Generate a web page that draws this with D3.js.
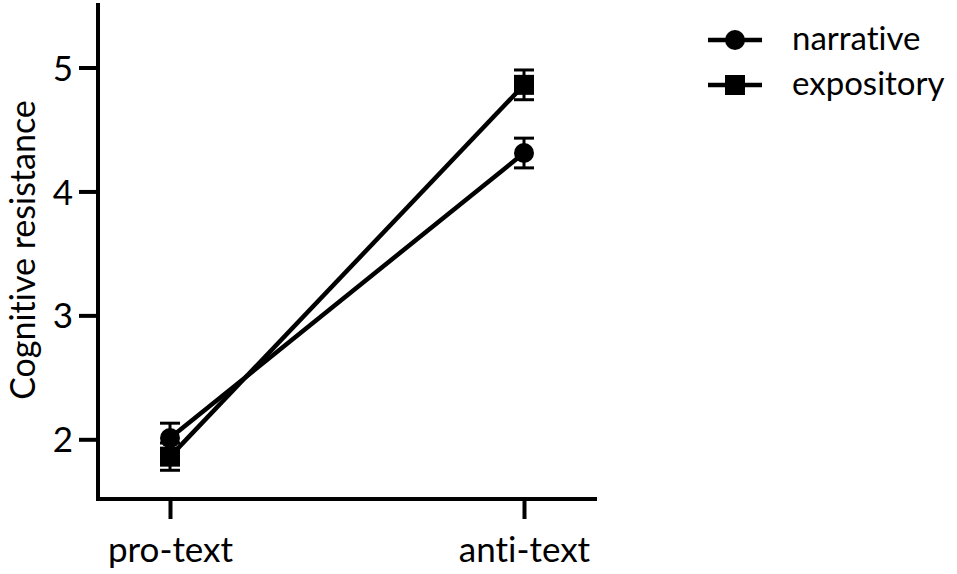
<!DOCTYPE html>
<html><head><meta charset="utf-8">
<script src="https://cdn.jsdelivr.net/npm/d3@7"></script>
<style>body{margin:0;background:#fff}svg{display:block}text{font-family:Lato,"Open Sans",sans-serif;fill:#000;font-variant-ligatures:none;font-feature-settings:"liga" 0}</style>
</head><body><svg id="c" width="957" height="574"></svg>
<script>
const categories = ["pro-text", "anti-text"];
const seriesNames = ["narrative", "expository"];
const narrativeMean = [2.01, 4.31];
const narrativeErr = [0.12, 0.12];
const expositoryMean = [1.86, 4.86];
const expositoryErr = [0.11, 0.12];
const yTicks = [2, 3, 4, 5];

const svg = d3.select("#c");
const y = d3.scaleLinear().domain([2, 5]).range([439.3, 67.5]);
const x = d3.scalePoint().domain(categories).range([170, 524]);
const xAxisY = 499, yAxisX = 98;

// axes
const gy = svg.append("g").attr("transform", `translate(${yAxisX},0)`)
  .call(d3.axisLeft(y).tickValues(yTicks).tickSize(19).tickPadding(6).tickFormat(d3.format("d")));
gy.select(".domain").remove();
gy.selectAll(".tick line").attr("stroke", "#000").attr("stroke-width", 4);
gy.selectAll(".tick text").style("font-size", "35px").attr("dy", "0.36em");
svg.append("line").attr("x1", yAxisX).attr("x2", yAxisX).attr("y1", 3).attr("y2", xAxisY + 2)
  .attr("stroke", "#000").attr("stroke-width", 4);

const gx = svg.append("g").attr("transform", `translate(0,${xAxisY})`)
  .call(d3.axisBottom(x).tickSize(20).tickPadding(0));
gx.select(".domain").remove();
gx.selectAll(".tick line").attr("stroke", "#000").attr("stroke-width", 4);
gx.selectAll(".tick text").style("font-size", "35px").attr("dy", null).attr("y", 63);
svg.append("line").attr("x1", yAxisX - 2).attr("x2", 597).attr("y1", xAxisY).attr("y2", xAxisY)
  .attr("stroke", "#000").attr("stroke-width", 4);

svg.append("text").attr("transform", `translate(35,250) rotate(-90)`)
  .attr("text-anchor", "middle").style("font-size", "34px").text("Cognitive resistance");

const series = [
  {name: seriesNames[0], mean: narrativeMean, err: narrativeErr, shape: "circle"},
  {name: seriesNames[1], mean: expositoryMean, err: expositoryErr, shape: "square"}
];
const line = d3.line().x((d, i) => x(categories[i])).y(d => y(d));
series.forEach(s => {
  svg.append("path").attr("d", line(s.mean)).attr("fill", "none").attr("stroke", "#000").attr("stroke-width", 4.5);
});
series.forEach(s => {
  const g = svg.append("g");
  s.mean.forEach((m, i) => {
    const cx = x(categories[i]);
    const yt = y(m + s.err[i]), yb = y(m - s.err[i]);
    g.append("line").attr("x1", cx).attr("x2", cx).attr("y1", yt).attr("y2", yb).attr("stroke", "#000").attr("stroke-width", 3);
    [yt, yb].forEach(yy => g.append("line").attr("x1", cx - 10).attr("x2", cx + 10).attr("y1", yy).attr("y2", yy).attr("stroke", "#000").attr("stroke-width", 3));
    if (s.shape === "circle") g.append("circle").attr("cx", cx).attr("cy", y(m)).attr("r", 10);
    else g.append("rect").attr("x", cx - 10).attr("y", y(m) - 10).attr("width", 20).attr("height", 20);
  });
});

// legend
series.forEach((s, i) => {
  const ly = 40 + i * 45;
  svg.append("line").attr("x1", 708).attr("x2", 762).attr("y1", ly).attr("y2", ly).attr("stroke", "#000").attr("stroke-width", 4.5);
  if (s.shape === "circle") svg.append("circle").attr("cx", 735).attr("cy", ly).attr("r", 10);
  else svg.append("rect").attr("x", 725).attr("y", ly - 10).attr("width", 20).attr("height", 20);
  svg.append("text").attr("x", 792).attr("y", ly).attr("dy", "0.3em").style("font-size", "33px").text(s.name);
});
</script></body></html>
